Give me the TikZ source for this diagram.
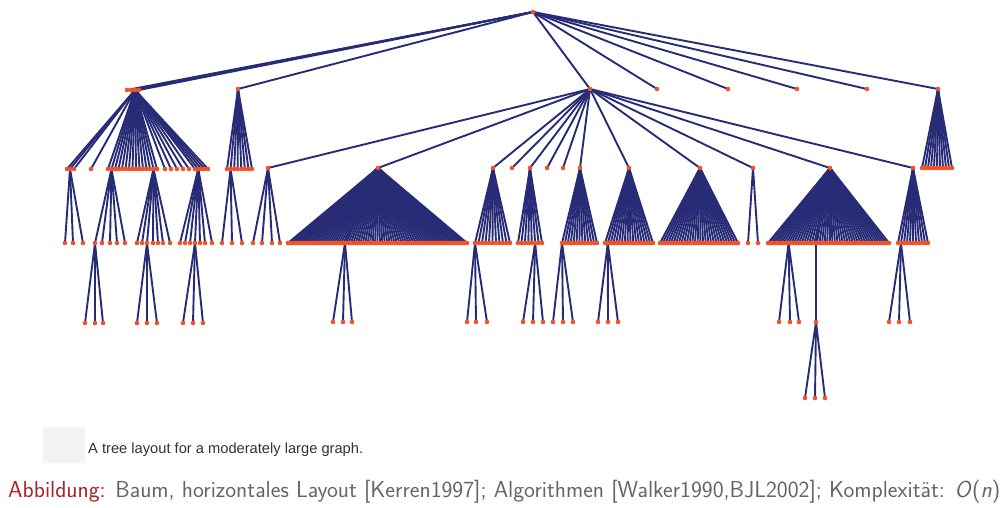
\documentclass[tikz,border=0pt]{standalone}
\usepackage{fontspec}
\newfontfamily\capfont{Liberation Sans}
\definecolor{edgec}{RGB}{40,44,118}
\definecolor{dotc}{RGB}{242,82,40}
\definecolor{capred}{RGB}{176,30,38}
\definecolor{capgray}{RGB}{100,100,108}
\definecolor{subgray}{RGB}{50,50,50}
\definecolor{boxgray}{RGB}{243,243,243}
\tikzset{
  dot/.style={circle,fill=dotc,inner sep=0pt,minimum size=4.6pt},
  edge/.style={draw=edgec,line width=1.9pt},
}
\gdef\dotlist{R}
% fan of n evenly spaced children: parent, prefix, y, xleft, xright, n
\newcommand\fanA[6]{%
  \foreach \k in {1,...,#6}{%
    \pgfmathsetmacro\xx{#4+(#5-#4)*(\k-1)/(#6-1)}%
    \coordinate (#2\k) at (\xx,#3);
    \draw[edge] (#1) -- (#2\k);
    \xdef\dotlist{\dotlist,#2\k}%
  }}
% explicit children: parent, prefix, y, list of x
\newcommand\kidsA[4]{%
  \foreach \xx [count=\k] in {#4}{%
    \coordinate (#2\k) at (\xx,#3);
    \draw[edge] (#1) -- (#2\k);
    \xdef\dotlist{\dotlist,#2\k}%
  }}
\begin{document}
\begin{tikzpicture}[x=1pt,y=-1pt]
\useasboundingbox (0,0) rectangle (1005,508);
% root and level 1
\coordinate (R) at (533,12);
\kidsA{R}{a}{90}{127,131,135,139}
\kidsA{R}{L}{89}{238,590,657,728,797,867,938}
% subtree A
\kidsA{a3}{p}{169}{67,70,74,91}
\fanA{a3}{q}{169}{108}{157}{15}
\kidsA{a3}{r}{169}{165,171,177,183,189}
\fanA{a3}{s}{169}{195}{208}{5}
\kidsA{p2}{pp}{243}{65,73,83}
\kidsA{q2}{qa}{243}{95,102,110,117,125}
\kidsA{q14}{qb}{243}{137,142,147,153,158,163,170}
\kidsA{s2}{sa}{243}{180,185,190,195,200,205,212}
\kidsA{qa1}{qaa}{323}{85,95,103}
\kidsA{qb3}{qbb}{323}{137,147,157}
\kidsA{sa4}{saa}{323}{183,193,203}
% subtree B
\fanA{L1}{b}{169}{227}{252}{8}
\kidsA{b2}{bb}{243}{222,232,242}
% subtree C
\kidsA{L2}{c}{168}{268,378,493,512,530,547,563,580,629,700,753,830,913}
\kidsA{c1}{ca}{243}{253,262,272,280}
\fanA{c2}{cb}{243}{288}{467}{75}
\kidsA{c2}{cbx}{243}{345}
\kidsA{cbx1}{cbb}{322}{333,343,352}
\fanA{c3}{cc}{243}{475}{510}{11}
\kidsA{cc1}{ccc}{322}{467,476,487}
\fanA{c5}{ce}{243}{518}{542}{8}
\kidsA{ce6}{cee}{322}{523,533,543}
\fanA{c8}{ch}{243}{562}{597}{13}
\kidsA{ch1}{chh}{322}{553,563,573}
\fanA{c9}{ci}{243}{605}{653}{18}
\kidsA{ci2}{cii}{322}{598,608,618}
\fanA{c10}{cj}{243}{660}{738}{30}
\kidsA{c11}{ck}{243}{748,758}
\fanA{c12}{cl}{243}{768}{889}{48}
\kidsA{cl9}{cll}{322}{779,790,799}
\kidsA{c12}{clx}{243}{816}
\kidsA{clx1}{cly}{322}{816}
\kidsA{cly1}{clz}{398}{805,815,825}
\fanA{c13}{cm}{243}{898}{928}{11}
\kidsA{cm2}{cmm}{322}{889,899,910}
% subtree H
\fanA{L7}{h}{168}{922}{952}{11}
% dots on top of all edges
\foreach \n in \dotlist {\node[dot] (d\n) at (\n) {};}
% captions
\node[fill=boxgray,minimum width=42pt,minimum height=36pt,inner sep=0pt,anchor=north west] (box) at (43,427) {};
\node[anchor=base west,inner sep=0pt] (sub) at (88,453)
  {\resizebox{275pt}{!}{\capfont\fontsize{14}{16}\selectfont\color{subgray}A tree layout for a moderately large graph.}};
\node[anchor=base west,inner sep=0pt] (cap) at (8,497)
  {\resizebox{992pt}{!}{\sffamily\fontsize{20}{24}\selectfont{\color{capred}Abbildung:} \color{capgray}Baum, horizontales Layout [Kerren1997]; Algorithmen [Walker1990,BJL2002]; Komplexit\"at: \textit{O}(\textit{n})}};
\end{tikzpicture}
\end{document}
